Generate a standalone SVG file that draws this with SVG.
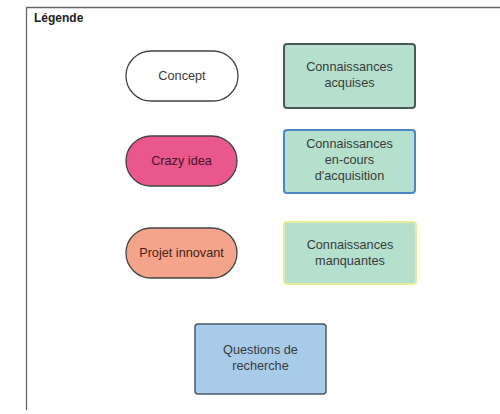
<svg xmlns="http://www.w3.org/2000/svg" width="500" height="414" viewBox="0 0 500 414">
<style>
text{font-family:"Liberation Sans",Arial,sans-serif;font-size:12.7px;fill:#3a3a3a;text-anchor:middle}
.pill{stroke:#444;stroke-width:1.3}
.box{stroke-width:2}
</style>
<rect x="0" y="0" width="500" height="414" fill="#fff"/>
<path d="M26.5,410 V7.5 H500" fill="none" stroke="#666" stroke-width="1.3"/>
<text x="34" y="22" style="text-anchor:start;font-weight:bold;font-size:12px;fill:#222">Légende</text>
<g id="concept"><rect class="pill" x="126" y="51" width="112" height="50" rx="25" fill="#fff"/><text x="182" y="80">Concept</text></g>
<g id="crazy"><rect class="pill" x="126" y="136" width="111" height="50" rx="25" fill="#e9578c"/><text x="181.5" y="165" style="fill:#4a1228">Crazy idea</text></g>
<g id="projet"><rect class="pill" x="126" y="228" width="111" height="50" rx="25" fill="#f4a48a"/><text x="181.5" y="257" style="fill:#4a2018">Projet innovant</text></g>
<g id="acquises"><rect class="box" x="284" y="44" width="131" height="64" rx="3" fill="#b4e0cd" stroke="#4b5a55"/><text x="349.5" y="71">Connaissances</text><text x="349.5" y="87">acquises</text></g>
<g id="encours"><rect class="box" x="284" y="130" width="131" height="63" rx="3" fill="#b4e0cd" stroke="#4a86c8"/><text x="349.5" y="148">Connaissances</text><text x="349.5" y="164">en-cours</text><text x="349.5" y="180">d'acquisition</text></g>
<g id="manquantes"><rect class="box" x="284" y="222" width="132" height="62" rx="3" fill="#b4e0cd" stroke="#e4ec9e"/><text x="350" y="249">Connaissances</text><text x="350" y="265">manquantes</text></g>
<g id="questions"><rect class="box" x="195" y="324" width="131" height="70" rx="3" fill="#a8cbe9" stroke="#4a5866" style="stroke-width:1.5"/><text x="260.5" y="354">Questions de</text><text x="260.5" y="370">recherche</text></g>
<g id="connectors"></g>
</svg>
